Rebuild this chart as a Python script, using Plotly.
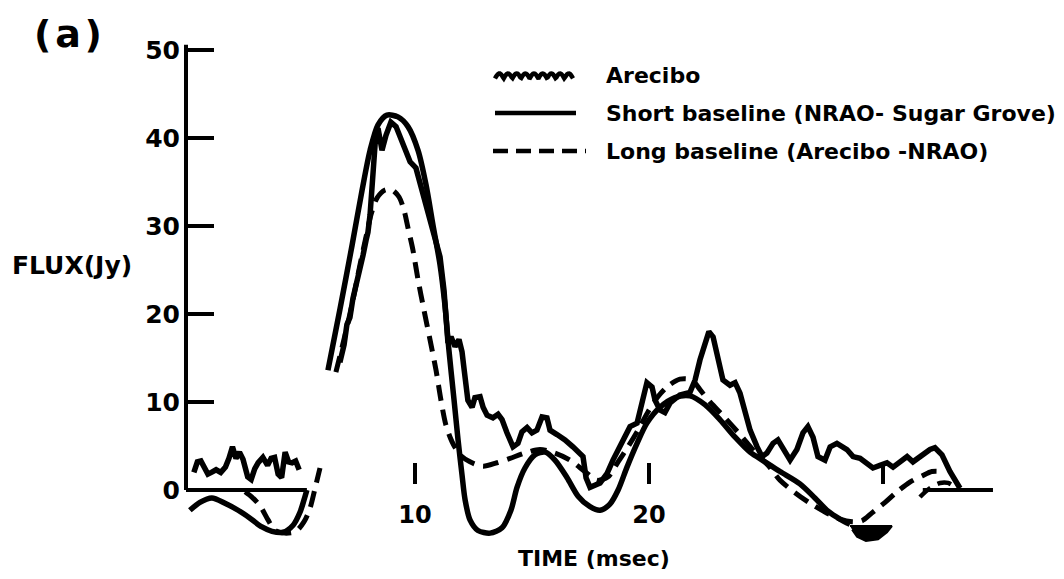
import math
import plotly.graph_objects as go

# ---- data: time in msec, flux density in Jy ----
# Arecibo single-dish flux (left interval, then main burst)
arecibo_t_left = [0.55, 0.70, 0.85, 1.00, 1.15, 1.30, 1.50, 1.70, 1.90, 2.05, 2.20, 2.35, 2.50, 2.65,
                  2.85, 3.00, 3.15, 3.30, 3.50, 3.70, 3.85, 4.00, 4.15, 4.30, 4.45, 4.60, 4.75, 4.90, 5.05]
arecibo_f_left = [2.0, 3.2, 3.3, 2.6, 1.8, 2.0, 2.3, 2.0, 2.6, 3.6, 4.9, 3.6, 4.3, 3.5,
                  1.5, 1.2, 2.4, 3.1, 3.7, 2.8, 3.6, 3.7, 1.8, 1.4, 4.3, 3.2, 3.1, 3.3, 2.3]
arecibo_t_main = [6.79, 6.97, 7.09, 7.22, 7.35, 7.44, 7.56, 7.65, 7.78, 7.91,
                  7.99, 8.08, 8.12, 8.21, 8.25, 8.33, 8.42, 8.59, 8.76, 8.97,
                  9.19, 9.40, 9.62, 9.79, 10.04, 10.21, 10.51, 10.77, 11.07, 11.24,
                  11.37, 11.41, 11.54, 11.71, 11.88, 12.01, 12.09, 12.18, 12.26, 12.44,
                  12.56, 12.78, 12.91, 13.08, 13.33, 13.55, 13.72, 13.93, 14.19, 14.40,
                  14.57, 14.79, 15.00, 15.21, 15.43, 15.64, 15.77, 16.07, 16.41, 16.75,
                  17.18, 17.31, 17.48, 17.91, 18.21, 18.46, 18.89, 19.19, 19.49, 19.70,
                  19.91, 20.13, 20.26, 20.47, 20.68, 20.90, 21.32, 21.75, 21.97, 22.18,
                  22.39, 22.56, 22.74, 22.95, 23.16, 23.46, 23.68, 23.89, 24.10, 24.32,
                  24.62, 24.83, 25.04, 25.30, 25.51, 25.73, 26.03, 26.32, 26.58, 26.79,
                  27.01, 27.22, 27.52, 27.74, 28.03, 28.46, 28.72, 29.02, 29.57, 29.87,
                  30.17, 30.43, 30.73, 31.03, 31.28, 31.58, 32.01, 32.22, 32.52, 32.86,
                  33.29]
arecibo_f_main = [14.5, 16.5, 18.8, 19.6, 21.8, 22.7, 24.4, 25.2, 26.7, 28.4,
                  29.3, 31.3, 33.0, 35.8, 38.1, 40.6, 41.1, 38.6, 40.3, 41.8,
                  41.3, 39.8, 38.4, 37.3, 36.6, 34.9, 32.2, 29.6, 26.5, 22.7,
                  19.0, 16.7, 17.4, 16.3, 17.1, 15.7, 13.9, 11.6, 10.2, 9.4,
                  10.5, 10.6, 9.4, 8.5, 8.2, 8.6, 8.0, 6.5, 4.9, 5.3,
                  6.6, 7.1, 6.5, 6.8, 8.3, 8.2, 6.8, 6.3, 5.7, 4.9,
                  3.8, 1.4, 0.3, 0.8, 1.9, 3.4, 5.7, 7.2, 7.6, 10.2,
                  12.2, 11.7, 10.2, 9.1, 8.8, 9.9, 10.8, 11.1, 12.5, 14.8,
                  16.7, 18.0, 17.4, 15.1, 12.5, 11.9, 12.2, 11.0, 8.8, 6.8,
                  4.9, 3.8, 4.2, 5.3, 5.7, 4.6, 3.4, 4.6, 6.5, 7.2,
                  6.0, 3.8, 3.4, 4.9, 5.3, 4.6, 3.8, 3.6, 2.5, 2.8,
                  3.1, 2.6, 3.2, 3.8, 3.2, 3.8, 4.6, 4.8, 4.0, 2.1,
                  0.2]

# Short baseline (NRAO - Sugar Grove) correlated flux
short_t_left = [0.38, 0.81, 1.32, 1.88, 2.44, 2.95, 3.46, 3.89, 4.36, 4.79, 5.09, 5.26, 5.38]
short_f_left = [-2.3, -1.4, -0.9, -1.5, -2.3, -3.2, -4.2, -4.7, -4.8, -4.0, -2.5, -1.1, 0.0]
short_t_main = [6.28, 6.79, 7.31, 7.74, 8.08, 8.42, 8.80, 9.27, 9.70, 10.13,
                10.47, 10.77, 11.07, 11.28, 11.45, 11.67, 11.84, 12.01, 12.14, 12.35,
                12.69, 13.21, 13.72, 14.10, 14.36, 14.70, 15.13, 15.56, 15.98, 16.50,
                16.97, 17.48, 17.91, 18.33, 18.68, 19.06, 19.49, 19.91, 20.47, 21.11,
                21.75, 22.39, 23.03, 23.68, 24.32, 24.96, 25.60, 26.45, 27.09, 27.65,
                28.16, 28.59]
short_f_main = [13.6, 20.5, 27.8, 34.1, 38.6, 41.5, 42.6, 42.4, 41.3, 38.6,
                34.7, 30.1, 25.6, 21.0, 15.9, 10.2, 5.7, 1.7, -1.1, -3.4,
                -4.6, -4.9, -4.3, -2.3, 0.3, 2.5, 4.0, 4.3, 3.4, 1.4,
                -0.7, -1.9, -2.3, -1.6, 0.0, 2.6, 5.3, 7.6, 9.4, 10.5,
                10.7, 9.7, 8.0, 6.0, 4.3, 3.2, 2.1, 0.7, -0.9, -2.4,
                -3.3, -3.9]
# uncertain tail of the short-baseline curve (drawn dashed)
short_tail_t = [31.58, 32.00, 32.44, 32.78, 33.08]
short_tail_f = [-0.8, 0.2, 0.8, 0.8, 0.3]

# Long baseline (Arecibo - NRAO) correlated flux
long_t_left = [2.74, 3.03, 3.38, 3.72, 4.02, 4.44, 4.91, 5.26, 5.51, 5.73, 5.94]
long_f_left = [-0.2, -0.8, -1.8, -3.4, -4.6, -4.9, -4.7, -3.6, -2.1, 0.2, 2.5]
long_t_main = [6.62, 7.01, 7.35, 7.65, 7.91, 8.12, 8.38, 8.72, 9.02, 9.32,
               9.53, 9.70, 9.91, 10.13, 10.38, 10.64, 10.90, 11.11, 11.32, 11.58,
               11.92, 12.35, 12.91, 13.50, 14.06, 14.70, 15.34, 15.98, 16.62, 17.26,
               17.78, 18.25, 18.68, 19.10, 19.53, 19.96, 20.38, 20.81, 21.32, 21.84,
               22.18, 22.61, 23.25, 23.89, 24.53, 25.09, 25.60, 26.24, 26.88, 27.52,
               28.16, 28.68, 29.10, 29.53, 30.09, 30.60, 31.15, 31.67, 32.09, 32.52]
long_f_main = [13.4, 17.6, 21.6, 25.6, 28.8, 31.3, 33.2, 34.1, 34.1, 33.3,
               31.8, 29.8, 27.3, 23.9, 20.5, 17.1, 13.6, 10.2, 7.4, 5.5,
               4.0, 3.2, 2.7, 3.1, 3.6, 4.2, 4.6, 4.2, 3.4, 2.1,
               1.1, 1.5, 3.2, 4.9, 6.8, 8.9, 10.6, 11.8, 12.6, 12.5,
               11.4, 10.0, 8.2, 6.3, 4.3, 2.8, 1.1, -0.3, -1.5, -2.5,
               -3.3, -3.6, -3.5, -2.6, -1.4, -0.2, 0.9, 1.6, 2.1, 2.1]

# filled blot under the trough near 30 msec
blot_t = [28.59, 30.38, 30.17, 29.79, 29.27, 28.89, 28.68]
blot_f = [-4.1, -4.1, -4.8, -5.6, -5.8, -5.3, -4.5]

# zero-flux reference segments
baseline_spans = [(0.21, 5.38), (31.7, 34.7)]

# axis ticks
y_ticks = [0, 10, 20, 30, 40, 50]
x_ticks = [10, 20, 30]
x_tick_text = ["10", "20", ""]

legend_labels = ["Arecibo", "Short baseline (NRAO- Sugar Grove)", "Long baseline (Arecibo -NRAO)"]

# ---- layout geometry (pixels) ----
W, H = 1064, 579
L, R, T, B = 186, 1000, 40, 545
X_RANGE = [0.214, 35.0]
Y_RANGE = [-6.25, 51.14]


def px(x):
    return (x - L) / (R - L)


def py(y):
    return (B - y) / (B - T)


FONT = "DejaVu Sans"
INK = "black"


def joined(a_t, a_f, b_t, b_f):
    return a_t + [None] + b_t, a_f + [None] + b_f


fig = go.Figure()

t, f = joined(arecibo_t_left, arecibo_f_left, arecibo_t_main, arecibo_f_main)
fig.add_trace(go.Scatter(x=t, y=f, mode="lines", name=legend_labels[0],
                         line=dict(color=INK, width=5.5), connectgaps=False))

t, f = joined(short_t_left, short_f_left, short_t_main, short_f_main)
fig.add_trace(go.Scatter(x=t, y=f, mode="lines", name=legend_labels[1],
                         line=dict(color=INK, width=5.5, shape="spline", smoothing=0.8),
                         connectgaps=False))
fig.add_trace(go.Scatter(x=short_tail_t, y=short_tail_f, mode="lines", showlegend=False,
                         line=dict(color=INK, width=4.5, dash="14px,8px", shape="spline")))

t, f = joined(long_t_left, long_f_left, long_t_main, long_f_main)
fig.add_trace(go.Scatter(x=t, y=f, mode="lines", name=legend_labels[2],
                         line=dict(color=INK, width=5, dash="16px,9px", shape="spline",
                                   smoothing=0.8),
                         connectgaps=False))

fig.add_trace(go.Scatter(x=blot_t, y=blot_f, mode="lines", fill="toself", fillcolor=INK,
                         line=dict(color=INK, width=2), showlegend=False))

shapes = []
# flux axis spine (0 to 50 Jy only)
shapes.append(dict(type="line", xref="paper", yref="y", x0=0, x1=0, y0=0, y1=50.6,
                   line=dict(color=INK, width=4)))
for a, b in baseline_spans:
    shapes.append(dict(type="line", xref="x", yref="y", x0=a, x1=b, y0=0, y1=0,
                       line=dict(color=INK, width=4)))

# legend glyphs
rows = [76, 113, 151]
wave = []
n = 80
for i in range(n + 1):
    xx = 495 + 78 * i / n
    yy = rows[0] + 2.5 - 5 * abs(math.sin(math.pi * (xx - 495) / 8.67))
    wave.append((px(xx), py(yy)))
path = "M " + " L ".join(f"{a:.5f},{b:.5f}" for a, b in wave)
shapes.append(dict(type="path", xref="paper", yref="paper", path=path,
                   line=dict(color=INK, width=4.5)))
shapes.append(dict(type="line", xref="paper", yref="paper", x0=px(495), x1=px(576),
                   y0=py(rows[1]), y1=py(rows[1]), line=dict(color=INK, width=4.5)))
shapes.append(dict(type="line", xref="paper", yref="paper", x0=px(493), x1=px(586),
                   y0=py(rows[2]), y1=py(rows[2]), line=dict(color=INK, width=4.5, dash="15px,8px")))

annotations = []
for label, row in zip(legend_labels, rows):
    annotations.append(dict(xref="paper", yref="paper", x=px(604), y=py(row), text=label,
                            showarrow=False, xanchor="left", yanchor="middle",
                            font=dict(family=FONT, size=22, color=INK, weight="bold")))
annotations.append(dict(xref="paper", yref="paper", x=px(32), y=py(34), text="(\u200aa\u200a)",
                        showarrow=False, xanchor="left", yanchor="middle",
                        font=dict(family=FONT, size=38, color=INK, weight="bold")))
annotations.append(dict(xref="paper", yref="paper", x=px(10), y=py(265), text="FLUX(Jy)",
                        showarrow=False, xanchor="left", yanchor="middle",
                        font=dict(family=FONT, size=25, color=INK, weight="bold")))
annotations.append(dict(xref="paper", yref="paper", x=px(594), y=py(558), text="TIME (msec)",
                        showarrow=False, xanchor="center", yanchor="middle",
                        font=dict(family=FONT, size=22, color=INK, weight="bold")))

fig.update_layout(
    width=W, height=H,
    margin=dict(l=L, r=W - R, t=T, b=H - B, autoexpand=False),
    paper_bgcolor="white", plot_bgcolor="white",
    showlegend=False,
    shapes=shapes, annotations=annotations,
    xaxis=dict(range=X_RANGE, showgrid=False, zeroline=False, showline=False,
               anchor="free", position=py(484),
               tickmode="array", tickvals=x_ticks, ticktext=x_tick_text,
               ticks="inside", ticklen=21, tickwidth=4, tickcolor=INK,
               ticklabelstandoff=14,
               tickfont=dict(family=FONT, size=24, color=INK, weight="bold")),
    yaxis=dict(range=Y_RANGE, showgrid=False, zeroline=False, showline=False,
               tickmode="array", tickvals=y_ticks,
               ticks="inside", ticklen=28, tickwidth=4, tickcolor=INK,
               ticklabelstandoff=5,
               tickfont=dict(family=FONT, size=25, color=INK, weight="bold")),
)

fig.write_html("out.html")
